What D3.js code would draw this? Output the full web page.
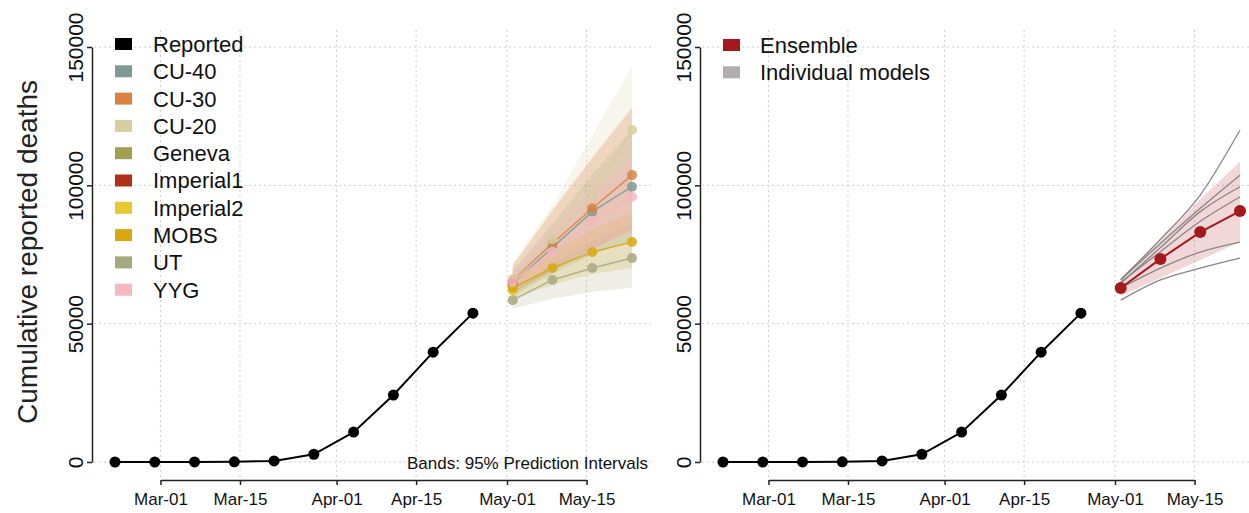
<!DOCTYPE html>
<html>
<head>
<meta charset="utf-8">
<script src="https://cdn.jsdelivr.net/npm/d3@7"></script>
<style>
  body { margin: 0; background: #fff; }
  svg { display: block; font-family: "Liberation Sans", Arial, sans-serif; }
</style>
</head>
<body>
<div id="root"></div>
<script>
// weekly reported cumulative deaths
const reportedDates = ["2020-02-22", "2020-02-29", "2020-03-07", "2020-03-14", "2020-03-21",
  "2020-03-28", "2020-04-04", "2020-04-11", "2020-04-18", "2020-04-25"];
const reportedDeaths = [0, 1, 20, 60, 400, 2800, 10800, 24200, 39700, 53800];

const forecastDates = ["2020-05-02", "2020-05-09", "2020-05-16", "2020-05-23"];

const modelNames = ["CU-40", "CU-30", "CU-20", "Geneva", "Imperial1", "Imperial2", "MOBS", "UT", "YYG"];
const modelColors = ["#7f9a96", "#d98342", "#d6cfa0", "#a0a050", "#b03018", "#e8c830", "#d8a810", "#a8a880", "#f5b8bf"];
const modelMedians = [
  [64500, 77500, 90500, 99500],
  [65800, 79000, 91700, 103700],
  [66000, 80500, 96500, 120000],
  [63500],
  [64500],
  [62000],
  [62900, 70100, 75900, 79500],
  [58500, 65800, 70100, 73700],
  [65000, 76000, 87000, 95800]
];
const modelLower = [
  [60000, 68000, 75000, 80000],
  [61000, 69000, 77000, 84000],
  [61000, 70000, 80000, 88000],
  [60000],
  [61000],
  [59000],
  [59000, 64000, 68000, 70000],
  [55500, 59000, 61500, 63000],
  [62000, 70000, 77000, 83000]
];
const modelUpper = [
  [69000, 86000, 104000, 120000],
  [71000, 91000, 110000, 128000],
  [72000, 93000, 118000, 143000],
  [67000],
  [68000],
  [66000],
  [66000, 76000, 84000, 90000],
  [61500, 72000, 80000, 86000],
  [69000, 84000, 98000, 110000]
];
const bandAlpha = [0.2, 0.3, 0.2, 0.2, 0.2, 0.2, 0.2, 0.2, 0.35];

const ensembleMedian = [62900, 73400, 83100, 90700];
const ensembleLower = [60000, 66500, 73000, 79500];
const ensembleUpper = [66000, 80000, 95000, 108500];

const xTickDates = ["2020-03-01", "2020-03-15", "2020-04-01", "2020-04-15", "2020-05-01", "2020-05-15"];
const xTickLabels = ["Mar-01", "Mar-15", "Apr-01", "Apr-15", "May-01", "May-15"];
const yTicks = [0, 50000, 100000, 150000];

const parse = d3.utcParse("%Y-%m-%d");
const width = 1249;
const height = 513;

const svg = d3.select("#root")
  .append("svg")
  .attr("width", width)
  .attr("height", height)
  .attr("viewBox", `0 0 ${width} ${height}`);

const yScale = d3.scaleLinear().domain([0, 150000]).range([462, 47]);
const plotTop = 30;
const plotBottom = 480;

function drawPanel(offset) {
  const g = svg.append("g").attr("transform", `translate(${offset},0)`);
  const xScale = d3.scaleUtc()
    .domain([parse("2020-02-22"), parse("2020-05-23")])
    .range([115, 632]);
  const plotLeft = 94, plotRight = 653;

  // dotted grid
  const grid = g.append("g")
    .attr("stroke", "#cfcfcf")
    .attr("stroke-width", 1)
    .attr("stroke-dasharray", "2,3");
  grid.selectAll(".vg")
    .data(xTickDates)
    .join("line")
    .attr("x1", (d) => xScale(parse(d)))
    .attr("x2", (d) => xScale(parse(d)))
    .attr("y1", plotTop)
    .attr("y2", plotBottom);
  grid.selectAll(".hg")
    .data(yTicks)
    .join("line")
    .attr("x1", plotLeft)
    .attr("x2", plotRight)
    .attr("y1", (d) => yScale(d))
    .attr("y2", (d) => yScale(d));

  // x axis, R style: line only between first and last tick
  const axisX = d3.scaleUtc()
    .domain([parse(xTickDates[0]), parse(xTickDates[xTickDates.length - 1])])
    .range([xScale(parse(xTickDates[0])), xScale(parse(xTickDates[xTickDates.length - 1]))]);
  const bottomAxis = d3.axisBottom(axisX)
    .tickValues(xTickDates.map(parse))
    .tickFormat((d, i) => xTickLabels[i])
    .tickSizeInner(5)
    .tickSizeOuter(0)
    .tickPadding(8);
  const xa = g.append("g")
    .attr("transform", `translate(0, ${plotBottom})`)
    .call(bottomAxis);
  xa.selectAll("path, line").attr("stroke", "#222").attr("stroke-width", 1.5);
  xa.selectAll("text").attr("font-size", 17).attr("fill", "#111")
    .attr("font-family", "Liberation Sans, Arial, sans-serif");

  // y axis with rotated labels
  const leftAxis = d3.axisLeft(yScale)
    .tickValues(yTicks)
    .tickFormat(d3.format("d"))
    .tickSizeInner(5)
    .tickSizeOuter(0);
  const ya = g.append("g")
    .attr("transform", `translate(92, 0)`)
    .call(leftAxis);
  ya.selectAll("path, line").attr("stroke", "#222").attr("stroke-width", 1.5);
  ya.selectAll("text")
    .attr("font-size", 21)
    .attr("fill", "#111")
    .attr("font-family", "Liberation Sans, Arial, sans-serif")
    .attr("text-anchor", "middle")
    .attr("x", null)
    .attr("dy", null)
    .attr("transform", "translate(-9,0) rotate(-90)");

  return { g, xScale };
}

// ---- left panel
const left = drawPanel(0);
const line = (xs) => d3.line()
  .x((d) => xs(d.date))
  .y((d) => yScale(d.value));
const band = (xs) => d3.area()
  .x((d) => xs(d.date))
  .y0((d) => yScale(d.lo))
  .y1((d) => yScale(d.hi));

modelNames.forEach((name, i) => {
  const pts = modelLower[i].map((lo, j) => ({
    date: parse(forecastDates[j]), lo, hi: modelUpper[i][j]
  }));
  left.g.append("path")
    .datum(pts)
    .attr("d", band(left.xScale))
    .attr("fill", modelColors[i])
    .attr("fill-opacity", bandAlpha[i]);
});

modelNames.forEach((name, i) => {
  const pts = modelMedians[i].map((value, j) => ({ date: parse(forecastDates[j]), value }));
  const mg = left.g.append("g").attr("opacity", 0.85);
  mg.append("path")
    .datum(pts)
    .attr("d", line(left.xScale))
    .attr("fill", "none")
    .attr("stroke", modelColors[i])
    .attr("stroke-width", 1.5);
  mg.selectAll("circle")
    .data(pts)
    .join("circle")
    .attr("cx", (d) => left.xScale(d.date))
    .attr("cy", (d) => yScale(d.value))
    .attr("r", 5)
    .attr("fill", modelColors[i]);
});

function drawReported(panel) {
  const pts = reportedDates.map((d, i) => ({ date: parse(d), value: reportedDeaths[i] }));
  panel.g.append("path")
    .datum(pts)
    .attr("d", line(panel.xScale))
    .attr("fill", "none")
    .attr("stroke", "#000")
    .attr("stroke-width", 2);
  panel.g.append("g")
    .selectAll("circle")
    .data(pts)
    .join("circle")
    .attr("cx", (d) => panel.xScale(d.date))
    .attr("cy", (d) => yScale(d.value))
    .attr("r", 5.5)
    .attr("fill", "#000");
}
drawReported(left);

// left legend
const legendItems = ["Reported"].concat(modelNames);
const legendColors = ["#000"].concat(modelColors);
const leg = left.g.append("g");
leg.selectAll("rect")
  .data(legendItems)
  .join("rect")
  .attr("x", 115)
  .attr("y", (d, i) => 44 + i * 27.3 - 6)
  .attr("width", 17)
  .attr("height", 12)
  .attr("fill", (d, i) => legendColors[i]);
leg.selectAll("text")
  .data(legendItems)
  .join("text")
  .attr("x", 153)
  .attr("y", (d, i) => 44 + i * 27.3)
  .attr("dy", "0.36em")
  .attr("font-size", 22)
  .attr("fill", "#111")
  .text((d) => d);

left.g.append("text")
  .attr("x", 648)
  .attr("y", 469)
  .attr("text-anchor", "end")
  .attr("font-size", 17)
  .attr("fill", "#111")
  .text("Bands: 95% Prediction Intervals");

svg.append("text")
  .attr("transform", "translate(37, 252) rotate(-90)")
  .attr("text-anchor", "middle")
  .attr("font-size", 28)
  .attr("fill", "#222")
  .text("Cumulative reported deaths");

// ---- right panel
const right = drawPanel(608);

const ensPts = forecastDates.map((d, j) => ({
  date: parse(d), value: ensembleMedian[j], lo: ensembleLower[j], hi: ensembleUpper[j]
}));
right.g.append("path")
  .datum(ensPts)
  .attr("d", band(right.xScale))
  .attr("fill", "#b22222")
  .attr("fill-opacity", 0.18);

modelNames.forEach((name, i) => {
  if (modelMedians[i].length < 2) return;
  const pts = modelMedians[i].map((value, j) => ({ date: parse(forecastDates[j]), value }));
  right.g.append("path")
    .datum(pts)
    .attr("d", line(right.xScale).curve(d3.curveMonotoneX))
    .attr("fill", "none")
    .attr("stroke", "#8a8486")
    .attr("stroke-width", 1.3);
});

right.g.append("path")
  .datum(ensPts)
  .attr("d", line(right.xScale))
  .attr("fill", "none")
  .attr("stroke", "#a3191c")
  .attr("stroke-width", 2);
right.g.append("g")
  .selectAll("circle")
  .data(ensPts)
  .join("circle")
  .attr("cx", (d) => right.xScale(d.date))
  .attr("cy", (d) => yScale(d.value))
  .attr("r", 6)
  .attr("fill", "#a3191c");

drawReported(right);

const rLegItems = ["Ensemble", "Individual models"];
const rLegColors = ["#a3191c", "#b3adb1"];
const rleg = right.g.append("g");
rleg.selectAll("rect")
  .data(rLegItems)
  .join("rect")
  .attr("x", 115)
  .attr("y", (d, i) => 45 + i * 27.3 - 6)
  .attr("width", 17)
  .attr("height", 12)
  .attr("fill", (d, i) => rLegColors[i]);
rleg.selectAll("text")
  .data(rLegItems)
  .join("text")
  .attr("x", 152)
  .attr("y", (d, i) => 45 + i * 27.3)
  .attr("dy", "0.36em")
  .attr("font-size", 22)
  .attr("fill", "#111")
  .text((d) => d);
</script>
</body>
</html>
